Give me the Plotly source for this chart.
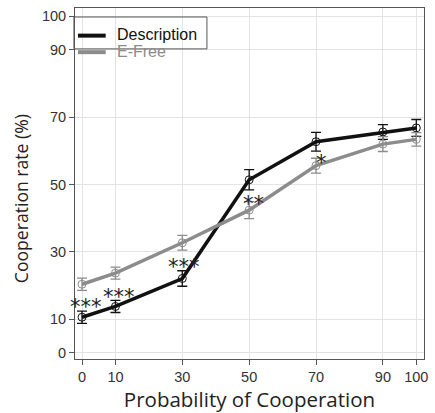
import plotly.graph_objects as go

# Probability of cooperation (x) and cooperation rates (%) per condition
probability = [0, 10, 30, 50, 70, 90, 100]
description_rate = [10.6, 13.8, 22.1, 51.4, 62.7, 65.6, 66.8]
description_err = [1.8, 1.8, 2.3, 3.0, 2.8, 2.2, 2.5]
efree_rate = [20.4, 23.7, 32.7, 42.4, 55.6, 62.0, 63.4]
efree_err = [1.8, 1.8, 2.2, 2.5, 2.2, 2.2, 2.0]

# Significance markers between the two conditions
sig_x = [1.2, 11.2, 30.5, 51.2, 71.7]
sig_y = [15.5, 18.4, 27.3, 46.1, 58.2]
sig_text = ["***", "***", "***", "**", "*"]

tick_vals = [0, 10, 30, 50, 70, 90, 100]

series_names = ["Description", "E-Free"]
BLACK = "#111111"
GRAY = "#8c8c8c"
series_colors = [BLACK, GRAY]

fig = go.Figure()

for name, y, err, color in zip(series_names, [description_rate, efree_rate],
                               [description_err, efree_err], series_colors):
    fig.add_trace(go.Scatter(
        x=probability, y=y, name=name, mode="lines+markers", showlegend=False,
        line=dict(color=color, width=3.5),
        marker=dict(symbol="circle-open", size=8, color=color, line=dict(width=1)),
        error_y=dict(type="data", array=err, color=color, thickness=1.3, width=5),
    ))

for x, y, t in zip(sig_x, sig_y, sig_text):
    fig.add_annotation(x=x, y=y, text=t, showarrow=False,
                       font=dict(family="DejaVu Sans", size=21, color="#222222"),
                       yshift=-6)

# Compact legend box in the upper-left corner of the plot area
legend_rows_y = [0.9213, 0.8742]
fig.add_shape(type="rect", xref="paper", yref="paper",
              x0=-0.003, x1=0.378, y0=0.8835, y1=0.9744,
              line=dict(color="#555555", width=1), fillcolor="rgba(0,0,0,0)")
for name, color, ry in zip(series_names, series_colors, legend_rows_y):
    fig.add_shape(type="line", xref="paper", yref="paper",
                  x0=0.0085, x1=0.088, y0=ry, y1=ry,
                  line=dict(color=color, width=4))
    fig.add_annotation(xref="paper", yref="paper", x=0.1136, y=ry, text=name,
                       showarrow=False, xanchor="left", yanchor="middle", yshift=1,
                       font=dict(family="Liberation Sans", size=16, color=color))

# Y-axis title, placed slightly below the axis centre
fig.add_annotation(xref="paper", yref="paper", x=-0.156, y=0.457,
                   text="Cooperation rate (%)", textangle=-90, showarrow=False,
                   xanchor="center", yanchor="middle",
                   font=dict(family="Open Sans", size=17.6, color="#222222"))

axis_common = dict(
    tickvals=tick_vals,
    showgrid=True, gridcolor="#e3e3e3", gridwidth=1,
    showline=True, linecolor="#555555", linewidth=1, mirror=True,
    ticks="outside", ticklen=5, tickcolor="#555555",
    tickfont=dict(family="Liberation Sans", size=14.5, color="#333333"),
    zeroline=False,
)

fig.update_xaxes(range=[-2.1, 102.3], title=dict(
    text="Probability of Cooperation", standoff=6,
    font=dict(family="Open Sans", size=20.5, color="#222222")), **axis_common)
fig.update_yaxes(range=[-1.8, 102.4], **axis_common)

fig.update_layout(
    width=435, height=413,
    margin=dict(l=75, r=7, t=8, b=53),
    paper_bgcolor="white", plot_bgcolor="white",
    showlegend=False,
)

fig.write_html("out.html")
